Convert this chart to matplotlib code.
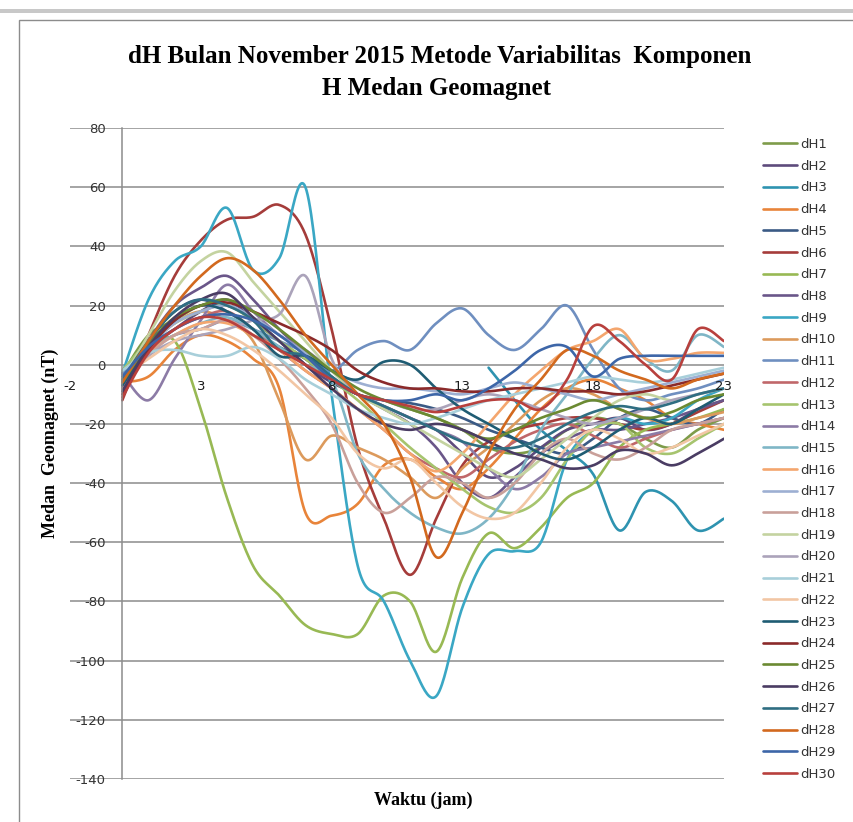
import numpy as np
import matplotlib
matplotlib.use('Agg')
import matplotlib.pyplot as plt
import matplotlib.transforms as mtransforms
from matplotlib.patches import Rectangle

plt.rcParams['axes.unicode_minus'] = False

nan = float('nan')

# hourly x values (jam)
hours = list(range(24))
xticks = [-2, 3, 8, 13, 18, 23]

# dH values (nT)
dH1 = [-3, 10, 15, 20, 20, 15, 8, 2, -5, -10, -12, -15, -18, -22, -28, -30, -28, -22, -18, -20, -25, -28, -22, -18]
dH2 = [-5, 5, 12, 18, 22, 15, 8, 0, -6, -10, -14, -18, -22, -30, -38, -35, -28, -22, -20, -18, -22, -20, -15, -12]
dH3 = [nan] * 14 + [-1, -12, -22, -29, -37, -56, -43, -46, -56, -52]
dH4 = [-6, -4, 5, 10, 8, 2, -8, -50, -51, -47, -34, -32, -38, -42, -35, -25, -15, -8, -5, -8, -12, -18, -20, -22]
dH5 = [-7, 8, 18, 22, 18, 12, 6, 2, -5, -10, -12, -13, -15, -18, -22, -25, -28, -30, -25, -18, -15, -18, -20, -15]
dH6 = [-12, 10, 30, 42, 49, 50, 54, 44, 12, -28, -52, -71, -52, -34, -26, -22, -20, -18, -18, -20, -22, -20, -16, -12]
dH7 = [-5, 5, 8, -15, -45, -68, -78, -88, -91, -91, -78, -80, -97, -72, -57, -62, -55, -45, -40, -28, -22, -20, -18, -15]
dH8 = [-8, 8, 20, 26, 30, 22, 12, 4, -4, -10, -15, -20, -28, -40, -45, -38, -30, -25, -22, -22, -20, -18, -15, -12]
dH9 = [-3, 22, 35, 40, 53, 32, 36, 60, -10, -68, -80, -100, -112, -82, -64, -63, -60, -32, -22, -18, -20, -18, -12, -8]
dH10 = [-4, 6, 14, 18, 15, 8, -12, -32, -24, -28, -32, -38, -45, -35, -28, -20, -12, -8, -10, -15, -18, -20, -18, -16]
dH11 = [-3, 5, 10, 12, 15, 12, 8, 4, -2, 5, 8, 5, 14, 19, 10, 5, 12, 20, 5, -8, -12, -10, -8, -5]
dH12 = [-8, 5, 12, 16, 18, 12, 5, -2, -8, -15, -22, -30, -35, -38, -32, -26, -22, -20, -24, -28, -25, -22, -20, -18]
dH13 = [-2, 8, 14, 18, 20, 15, 8, 2, -5, -12, -20, -28, -35, -42, -48, -50, -45, -32, -22, -20, -28, -30, -25, -20]
dH14 = [-3, -12, 2, 15, 27, 18, 10, 5, -2, -10, -14, -18, -22, -26, -35, -42, -38, -30, -28, -26, -24, -22, -20, -18]
dH15 = [-6, 5, 10, 14, 16, 12, 6, 0, -5, -30, -42, -50, -55, -57, -52, -40, -22, -10, 2, 10, 2, -2, 10, 6]
dH16 = [-5, 4, 10, 14, 14, 10, 5, -2, -8, -15, -22, -30, -36, -30, -20, -10, -2, 5, 8, 12, 2, 2, 4, 4]
dH17 = [-4, 6, 14, 18, 20, 16, 10, 4, -2, -6, -8, -8, -9, -10, -8, -6, -8, -10, -12, -10, -8, -6, -4, -2]
dH18 = [-8, 3, 10, 12, 15, 10, 2, -8, -20, -40, -50, -45, -38, -40, -45, -40, -30, -25, -30, -32, -28, -22, -20, -18]
dH19 = [-5, 10, 25, 35, 38, 28, 18, 8, -2, -10, -15, -20, -25, -30, -35, -38, -32, -25, -18, -12, -10, -12, -10, -8]
dH20 = [-6, 3, 8, 10, 12, 15, 17, 30, 2, -10, -12, -15, -15, -12, -10, -12, -15, -18, -20, -18, -15, -12, -10, -8]
dH21 = [-2, 4, 5, 3, 3, 6, 2, -5, -10, -15, -18, -20, -18, -15, -12, -10, -8, -6, -4, -5, -6, -5, -3, -1]
dH22 = [-4, 2, 8, 12, 10, 5, -2, -10, -18, -30, -35, -32, -40, -48, -52, -50, -40, -28, -22, -25, -30, -28, -24, -20]
dH23 = [-7, 6, 15, 20, 18, 12, 3, 3, -2, -5, 1, 0, -8, -15, -20, -25, -30, -32, -28, -22, -18, -20, -15, -10]
dH24 = [-10, 5, 15, 20, 21, 18, 14, 10, 5, -2, -6, -8, -8, -9, -9, -8, -8, -9, -9, -10, -9, -7, -5, -3]
dH25 = [-6, 7, 16, 20, 22, 18, 12, 5, -2, -8, -12, -15, -18, -22, -25, -22, -18, -15, -12, -15, -18, -16, -12, -10]
dH26 = [-9, 6, 16, 22, 24, 16, 8, 0, -8, -15, -20, -22, -20, -22, -26, -30, -32, -35, -34, -29, -30, -34, -30, -25]
dH27 = [-5, 8, 18, 22, 20, 15, 5, 3, -4, -10, -14, -18, -22, -26, -28, -28, -25, -20, -16, -14, -15, -13, -10, -8]
dH28 = [-6, 8, 20, 30, 36, 32, 22, 10, 0, -10, -20, -38, -65, -50, -30, -15, -5, 5, 3, -2, -5, -8, -5, -3]
dH29 = [-4, 6, 12, 16, 17, 15, 10, 3, -5, -10, -12, -12, -10, -12, -8, -2, 5, 6, -4, 2, 3, 3, 3, 3]
dH30 = [-11, 4, 12, 16, 15, 10, 5, 0, -5, -10, -12, -14, -16, -14, -12, -12, -15, -5, 13, 8, 0, -5, 12, 8]

series = [dH1, dH2, dH3, dH4, dH5, dH6, dH7, dH8, dH9, dH10,
          dH11, dH12, dH13, dH14, dH15, dH16, dH17, dH18, dH19, dH20,
          dH21, dH22, dH23, dH24, dH25, dH26, dH27, dH28, dH29, dH30]
labels = ['dH%d' % (i + 1) for i in range(len(series))]

colors = ['#7E9C4A', '#5E4B7C', '#2E93B0', '#E8843A', '#3A5A85', '#A53C3A',
          '#98B954', '#6A5689', '#3AA7C4', '#DC9A5C', '#6F8FC0', '#C0676A',
          '#A6C46E', '#8C7BA6', '#7FB6C6', '#F4A66E', '#9DAFD2', '#C9A09A',
          '#C4D3A0', '#ABA3BA', '#A8CFDA', '#F2C6A4', '#1F5C73', '#8B2A2A',
          '#6B8A32', '#4A3C63', '#2F6E82', '#D2691E', '#3D66A8', '#B8403D']


# Excel style smoothed line (bezier through the points)
def smooth(x, y, n=24):
    x = np.asarray(x, float)
    y = np.asarray(y, float)
    m = ~np.isnan(y)
    p = np.column_stack([x[m], y[m]])
    out = [p[:1]]
    t = np.linspace(0, 1, n)[1:, None]
    for i in range(len(p) - 1):
        p0 = p[i - 1] if i > 0 else p[i]
        p3 = p[i + 2] if i + 2 < len(p) else p[i + 1]
        b1 = p[i] + (p[i + 1] - p0) / 6.0
        b2 = p[i + 1] - (p3 - p[i]) / 6.0
        seg = ((1 - t) ** 3) * p[i] + 3 * ((1 - t) ** 2) * t * b1 \
            + 3 * (1 - t) * t ** 2 * b2 + t ** 3 * p[i + 1]
        out.append(seg)
    out = np.vstack(out)
    return out[:, 0], out[:, 1]


W, H = 854, 822
fig = plt.figure(figsize=(W / 100, H / 100), dpi=100)

# screenshot frame bits
fig.add_artist(Rectangle((0, 1 - 13 / H), 1, 4 / H, transform=fig.transFigure,
                         facecolor='#c8c8c8', edgecolor='none'))
fig.add_artist(Rectangle((19 / W, -0.01), 1.0, 1 - 20 / H + 0.01, transform=fig.transFigure,
                         facecolor='none', edgecolor='#8c8c8c', lw=1.0))

ax = fig.add_axes([70 / W, 1 - 779 / H, 654 / W, 651 / H])
ax.set_xlim(-2, 23)
ax.set_ylim(-140, 80)

for s, lab, c in zip(series, labels, colors):
    sx, sy = smooth(hours, s)
    ax.plot(sx, sy, color=c, lw=1.9, label=lab, solid_capstyle='round')

ax.set_yticks(np.arange(-140, 81, 20))
ax.set_xticks(xticks)
ax.set_xticklabels([])
ax.grid(axis='y', color='#8c8c8c', lw=1.1)
ax.set_axisbelow(True)
for side in ['top', 'right', 'bottom']:
    ax.spines[side].set_visible(False)
ax.spines['left'].set_position(('data', 0))
ax.spines['left'].set_color('#8c8c8c')
ax.spines['left'].set_linewidth(1.1)
ax.tick_params(axis='y', length=0, pad=12, labelsize=9.5, labelcolor='#333333')
ax.tick_params(axis='x', length=0)
for lab in ax.get_yticklabels():
    lab.set_fontfamily('DejaVu Sans')

# x labels sit under the y=0 line, on top of the lines like in Excel
below = mtransforms.offset_copy(ax.transData, fig=fig, y=-22, units='dots')
for xv in xticks:
    ax.text(xv, 0, str(xv), transform=below, ha='center', va='center',
            fontsize=9.5, color='#1c1c1c', family='DejaVu Sans', zorder=10)

fig.text(440 / W, 1 - 57 / H, 'dH Bulan November 2015 Metode Variabilitas  Komponen',
         ha='center', va='center', fontsize=18, fontweight='bold', family='Liberation Serif')
fig.text(437 / W, 1 - 88 / H, 'H Medan Geomagnet',
         ha='center', va='center', fontsize=18, fontweight='bold', family='Liberation Serif')
fig.text(50 / W, 1 - 443 / H, 'Medan  Geomagnet (nT)', rotation=90,
         ha='center', va='center', fontsize=13, fontweight='bold', family='Liberation Serif')
fig.text(423 / W, 1 - 800 / H, 'Waktu (jam)',
         ha='center', va='center', fontsize=13, fontweight='bold', family='Liberation Serif')

leg = ax.legend(loc='upper left', bbox_to_anchor=(763 / W, 1 - 138 / H),
                bbox_transform=fig.transFigure, frameon=False,
                handlelength=2.6, handletextpad=0.2, labelspacing=0.66,
                borderaxespad=0, borderpad=0, prop={'family': 'DejaVu Sans', 'size': 9.5})
for t in leg.get_texts():
    t.set_color('#333333')

fig.savefig('out.png', dpi=100)
